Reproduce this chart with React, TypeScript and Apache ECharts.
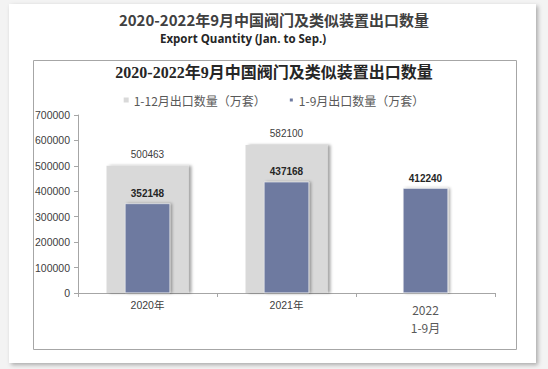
import React, { useEffect, useRef } from "react";
import * as echarts from "echarts";

const categories = ["2020年", "2021年", "2022\n1-9月"];
const fullYear = [500463, 582100, null];
const janToSep = [352148, 437168, 412240];
const seriesNames = ["1-12月出口数量（万套）", "1-9月出口数量（万套）"];
const titleText = "2020-2022年9月中国阀门及类似装置出口数量";
const subtitleText = "Export Quantity (Jan. to Sep.)";

export default function App() {
  const ref = useRef<HTMLDivElement>(null);
  useEffect(() => {
    const chart = echarts.init(ref.current!, null, { renderer: "svg" });
    chart.setOption({
      animation: false,
      backgroundColor: "#f3f3f3",
      graphic: [
        {
          type: "rect",
          shape: { x: 9, y: 4, width: 527, height: 359 },
          style: { fill: "#ffffff", shadowBlur: 4, shadowOffsetX: 2, shadowOffsetY: 2, shadowColor: "rgba(0,0,0,0.3)" },
          z: -10,
        },
        {
          type: "rect",
          shape: { x: 33.5, y: 60.5, width: 483, height: 289 },
          style: { fill: "#ffffff", stroke: "#a6a6a6", lineWidth: 1 },
          z: -9,
        },
      ],
      title: [
        {
          text: titleText,
          left: "center",
          top: 10.5,
          padding: 0,
          textStyle: { fontFamily: "Noto Sans CJK SC", fontWeight: "bold", fontSize: 15, lineHeight: 18, color: "#404040" },
        },
        {
          text: subtitleText,
          left: 160,
          top: 32,
          padding: 0,
          textStyle: { fontFamily: "Open Sans", fontWeight: "bold", fontSize: 11.5, lineHeight: 13, color: "#262626" },
        },
        {
          text: titleText,
          left: "center",
          top: 59,
          textStyle: { fontFamily: "'Liberation Serif', 'Noto Sans CJK SC'", fontWeight: "bold", fontSize: 16, color: "#262626" },
        },
      ],
      legend: {
        top: 89,
        left: "center",
        icon: "rect",
        itemWidth: 5,
        itemHeight: 5,
        itemGap: 22,
        textStyle: { fontFamily: "Noto Sans CJK SC", fontSize: 12, color: "#595959" },
        data: seriesNames,
      },
      grid: { left: 78, right: 53, top: 115, bottom: 76 },
      xAxis: [
        {
          type: "category",
          data: categories,
          axisLine: { lineStyle: { color: "#a6a6a6" } },
          axisTick: { show: true, length: 4, lineStyle: { color: "#a6a6a6" } },
          axisLabel: {
            margin: 7,
            formatter: (v: string) =>
              v.indexOf("\n") >= 0
                ? v.split("\n").map((s) => "{b|" + s + "}").join("\n")
                : "{a|" + v + "}",
            rich: {
              a: { fontFamily: "Liberation Sans, Noto Sans CJK SC", fontSize: 10.5, color: "#404040" },
              b: { fontFamily: "Noto Sans CJK SC", fontSize: 12, color: "#595959", lineHeight: 18 },
            },
          },
        },
        {
          type: "category",
          data: categories,
          show: false,
        },
      ],
      yAxis: {
        type: "value",
        min: 0,
        max: 700000,
        interval: 100000,
        splitLine: { show: false },
        axisLine: { show: true, lineStyle: { color: "#a6a6a6" } },
        axisTick: { show: true, length: 4, lineStyle: { color: "#a6a6a6" } },
        axisLabel: {
          margin: 8,
          formatter: (v: number) => String(v),
          fontFamily: "Liberation Sans",
          fontSize: 10.5,
          color: "#404040",
        },
      },
      series: [
        {
          name: seriesNames[0],
          type: "bar",
          xAxisIndex: 0,
          data: fullYear,
          barWidth: 82,
          itemStyle: {
            color: "#d9d9d9",
            shadowColor: "rgba(0,0,0,0.35)",
            shadowBlur: 3,
            shadowOffsetX: 3,
          },
          label: {
            show: true,
            position: "top",
            distance: 6,
            fontFamily: "Liberation Sans",
            fontSize: 10,
            color: "#404040",
          },
        },
        {
          name: seriesNames[1],
          type: "bar",
          xAxisIndex: 1,
          data: janToSep,
          barWidth: 45,
          itemStyle: {
            color: "#6e7aa0",
            borderColor: "#ffffff",
            borderWidth: 0.5,
            shadowColor: "rgba(0,0,0,0.35)",
            shadowBlur: 3,
            shadowOffsetX: 2,
          },
          label: {
            show: true,
            position: "top",
            distance: 5,
            fontFamily: "Liberation Sans",
            fontWeight: "bold",
            fontSize: 10,
            color: "#262626",
          },
        },
      ],
    });
    return () => chart.dispose();
  }, []);
  return <div ref={ref} style={{ position: "fixed", left: 0, top: 0, width: 548, height: 369 }} />;
}
